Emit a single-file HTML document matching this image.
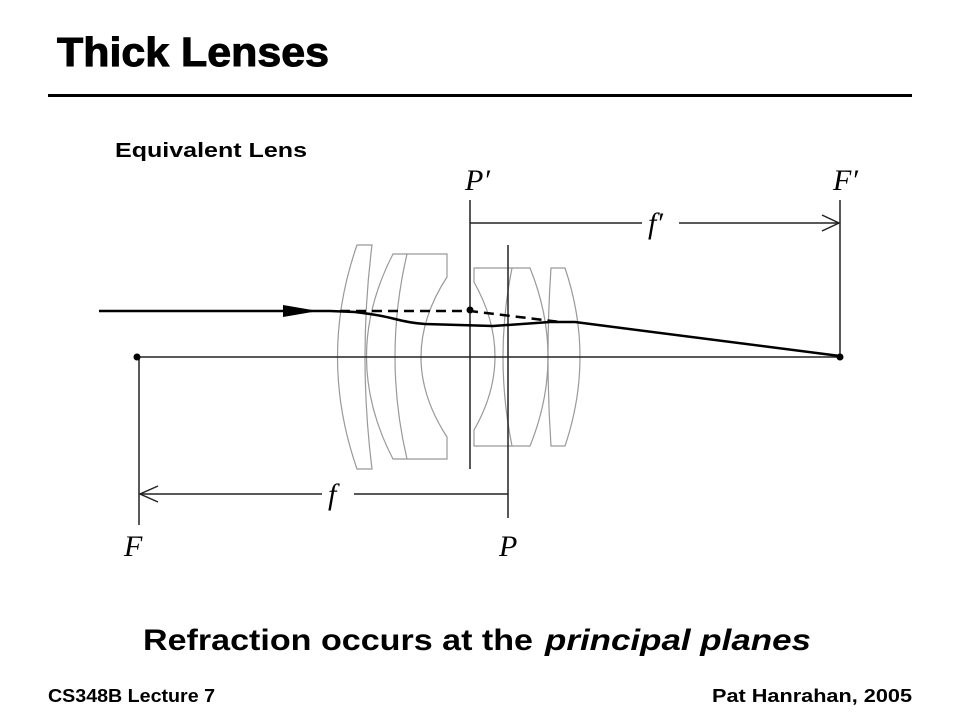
<!DOCTYPE html>
<html><head><meta charset="utf-8"><style>html,body{margin:0;padding:0;background:#fff}svg{display:block}</style></head>
<body>
<svg width="960" height="720" viewBox="0 0 960 720" xmlns="http://www.w3.org/2000/svg">
<text x="57" y="66" font-family="Liberation Sans, sans-serif" font-weight="bold" font-size="41" stroke="#000" stroke-width="1" textLength="272" lengthAdjust="spacingAndGlyphs">Thick Lenses</text>
<rect x="48" y="94" width="864" height="3" fill="#000"/>
<text x="115" y="157" font-family="Liberation Sans, sans-serif" font-weight="bold" font-size="20" textLength="192" lengthAdjust="spacingAndGlyphs">Equivalent Lens</text>
<g fill="none" stroke="#999" stroke-width="1.2">
<path d="M357,245 L372,245 Q358,357 372,469 L357,469 Q318,357 357,245 Z"/>
<path d="M393,254 L447,254 L447,277 Q395,357 447,437 L447,459 L393,459 Q340,357 393,254 Z"/>
<path d="M407,254 Q383,357 407,459"/>
<path d="M474,268 L530,268 Q566,357 530,446 L474,446 L474,430 Q516,357 474,282 Z"/>
<path d="M512,268 Q494,357 512,446"/>
<path d="M551,268 L565,268 Q595,357 565,446 L551,446 Q545,357 551,268 Z"/>
</g>
<g stroke="#222" stroke-width="1.5" fill="none">
<line x1="137" y1="357" x2="840" y2="357"/>
<line x1="470" y1="200" x2="470" y2="469"/>
<line x1="508" y1="245" x2="508" y2="518"/>
<line x1="840" y1="200" x2="840" y2="357"/>
<line x1="139" y1="357" x2="139" y2="525"/>
<line x1="470" y1="223" x2="642" y2="223"/>
<line x1="679" y1="223" x2="839" y2="223"/>
<path d="M822,215 L839,223 L822,231"/>
<line x1="140" y1="494" x2="322" y2="494"/>
<line x1="354" y1="494" x2="508" y2="494"/>
<path d="M158,486 L140,494 L158,502"/>
</g>
<g stroke="#000" stroke-width="2.5" fill="none">
<line x1="99" y1="311" x2="330" y2="311"/>
<path d="M330,311 L355,312 Q380,315 395,319 Q410,323 425,324 L493,326 L550,322 L575,322 L840,356"/>
<path d="M340,311 L470,311 L560,322" stroke-dasharray="10,6"/>
</g>
<path d="M283,305 L318,311 L283,317 Z" fill="#000"/>
<circle cx="470" cy="310" r="3.5" fill="#000"/>
<circle cx="840" cy="357" r="3.5" fill="#000"/>
<circle cx="137" cy="357" r="3.5" fill="#000"/>
<g font-family="Liberation Serif, serif" font-style="italic" font-size="30">
<text x="465" y="190">P′</text>
<text x="833" y="190">F′</text>
<text x="648" y="233">f′</text>
<text x="328" y="504">f</text>
<text x="124" y="556">F</text>
<text x="499" y="556">P</text>
</g>
<text x="143" y="650" font-family="Liberation Sans, sans-serif" font-weight="bold" font-size="30" textLength="390" lengthAdjust="spacingAndGlyphs">Refraction occurs at the</text>
<text x="545" y="650" font-family="Liberation Sans, sans-serif" font-weight="bold" font-style="italic" font-size="30" textLength="266" lengthAdjust="spacingAndGlyphs">principal planes</text>
<text x="48" y="702" font-family="Liberation Sans, sans-serif" font-weight="bold" font-size="18" textLength="167" lengthAdjust="spacingAndGlyphs">CS348B Lecture 7</text>
<text x="712" y="702" font-family="Liberation Sans, sans-serif" font-weight="bold" font-size="18" textLength="200" lengthAdjust="spacingAndGlyphs">Pat Hanrahan, 2005</text>
</svg>
</body></html>
